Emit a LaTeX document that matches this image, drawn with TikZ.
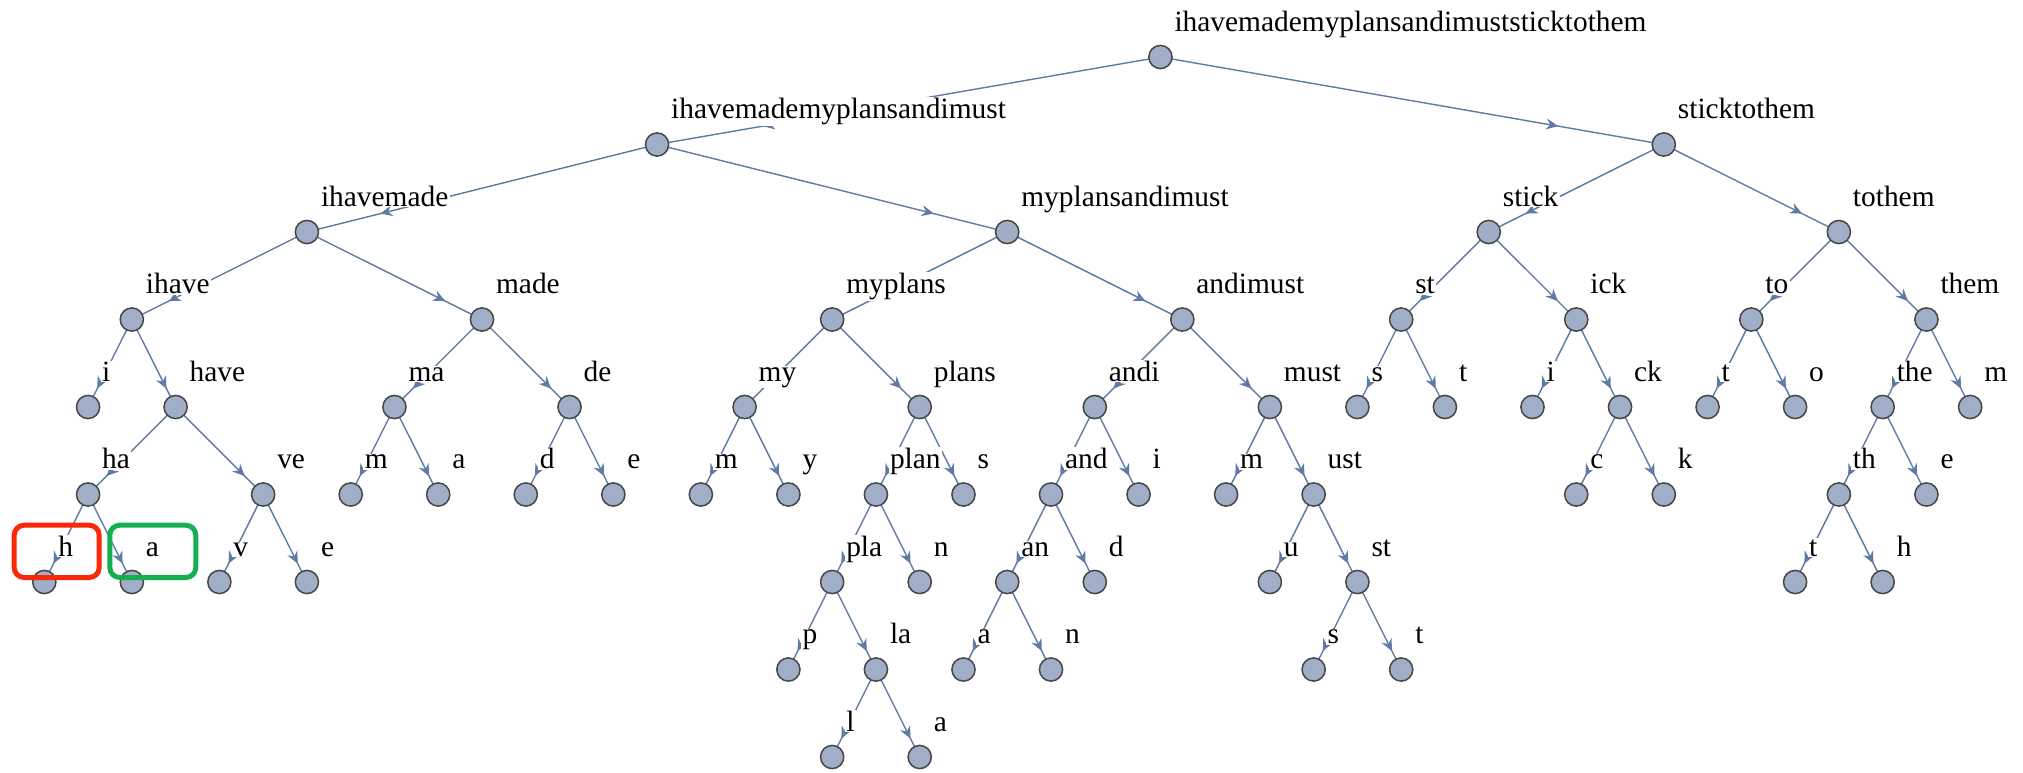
\documentclass[tikz,border=0pt]{standalone}
\usepackage{fontspec}
\setmainfont{Liberation Serif}
\usetikzlibrary{arrows.meta,decorations.markings,backgrounds}
\definecolor{vfill}{RGB}{160,174,200}
\definecolor{vline}{RGB}{70,70,70}
\definecolor{ecol}{RGB}{96,122,166}
\definecolor{hlred}{RGB}{250,40,10}
\definecolor{hlgreen}{RGB}{20,176,80}
\tikzset{
  vtx/.style={circle, fill=vfill, draw=vline, line width=0.75pt, minimum size=11.6pt, inner sep=0pt},
  lbl/.style={anchor=base west, fill=white, inner xsep=0.75pt, inner ysep=0.5pt,
    font=\fontsize{14.7pt}{17pt}\selectfont, text=black},
  edge/.style={draw=ecol, line width=0.7pt, postaction={decorate},
    decoration={markings, mark=at position 0.79 with {\arrow[ecol]{Stealth[length=6pt,width=5.5pt,inset=2pt]}}}},
  hlbox/.style={line width=2.5pt, rounded corners=5pt}
}
% tree vertex with its word label above right
\newcommand\tn[4]{\node[vtx] (#1) at (#2,#3) {}; \node[lbl] (#1-l) at ([shift={(6.1pt,13pt)}]#1.center) {#4};}
\begin{document}
\begin{tikzpicture}[x=0.5pt,y=-0.5pt]
\useasboundingbox (0,0) rectangle (2023,772);
\begin{scope}[shift={(44.3,57)}, x=21.885pt, y=-43.75pt]
\tn{r}{25.5}{0}{ihavemademyplansandimuststicktothem}
\tn{r0}{14}{1}{ihavemademyplansandimust}
\tn{r1}{37}{1}{sticktothem}
\tn{r00}{6}{2}{ihavemade}
\tn{r01}{22}{2}{myplansandimust}
\tn{r10}{33}{2}{stick}
\tn{r11}{41}{2}{tothem}
\tn{r000}{2}{3}{ihave}
\tn{r001}{10}{3}{made}
\tn{r010}{18}{3}{myplans}
\tn{r011}{26}{3}{andimust}
\tn{r100}{31}{3}{st}
\tn{r101}{35}{3}{ick}
\tn{r110}{39}{3}{to}
\tn{r111}{43}{3}{them}
\tn{r0000}{1}{4}{i}
\tn{r0001}{3}{4}{have}
\tn{r0010}{8}{4}{ma}
\tn{r0011}{12}{4}{de}
\tn{r0100}{16}{4}{my}
\tn{r0101}{20}{4}{plans}
\tn{r0110}{24}{4}{andi}
\tn{r0111}{28}{4}{must}
\tn{r1000}{30}{4}{s}
\tn{r1001}{32}{4}{t}
\tn{r1010}{34}{4}{i}
\tn{r1011}{36}{4}{ck}
\tn{r1100}{38}{4}{t}
\tn{r1101}{40}{4}{o}
\tn{r1110}{42}{4}{the}
\tn{r1111}{44}{4}{m}
\tn{r00010}{1}{5}{ha}
\tn{r00011}{5}{5}{ve}
\tn{r00100}{7}{5}{m}
\tn{r00101}{9}{5}{a}
\tn{r00110}{11}{5}{d}
\tn{r00111}{13}{5}{e}
\tn{r01000}{15}{5}{m}
\tn{r01001}{17}{5}{y}
\tn{r01010}{19}{5}{plan}
\tn{r01011}{21}{5}{s}
\tn{r01100}{23}{5}{and}
\tn{r01101}{25}{5}{i}
\tn{r01110}{27}{5}{m}
\tn{r01111}{29}{5}{ust}
\tn{r10110}{35}{5}{c}
\tn{r10111}{37}{5}{k}
\tn{r11100}{41}{5}{th}
\tn{r11101}{43}{5}{e}
\tn{r000100}{0}{6}{h}
\tn{r000101}{2}{6}{a}
\tn{r000110}{4}{6}{v}
\tn{r000111}{6}{6}{e}
\tn{r010100}{18}{6}{pla}
\tn{r010101}{20}{6}{n}
\tn{r011000}{22}{6}{an}
\tn{r011001}{24}{6}{d}
\tn{r011110}{28}{6}{u}
\tn{r011111}{30}{6}{st}
\tn{r111000}{40}{6}{t}
\tn{r111001}{42}{6}{h}
\tn{r0101000}{17}{7}{p}
\tn{r0101001}{19}{7}{la}
\tn{r0110000}{21}{7}{a}
\tn{r0110001}{23}{7}{n}
\tn{r0111110}{29}{7}{s}
\tn{r0111111}{31}{7}{t}
\tn{r01010010}{18}{8}{l}
\tn{r01010011}{20}{8}{a}
\end{scope}
\begin{pgfonlayer}{background}
\fill[white] (0,0) rectangle (2023,772);
\foreach \p/\c in {r/r0, r/r1,
  r0/r00, r0/r01, r1/r10, r1/r11,
  r00/r000, r00/r001, r01/r010, r01/r011, r10/r100, r10/r101, r11/r110, r11/r111,
  r000/r0000, r000/r0001, r001/r0010, r001/r0011, r010/r0100, r010/r0101, r011/r0110, r011/r0111,
  r100/r1000, r100/r1001, r101/r1010, r101/r1011, r110/r1100, r110/r1101, r111/r1110, r111/r1111,
  r0001/r00010, r0001/r00011, r0010/r00100, r0010/r00101, r0011/r00110, r0011/r00111,
  r0100/r01000, r0100/r01001, r0101/r01010, r0101/r01011, r0110/r01100, r0110/r01101,
  r0111/r01110, r0111/r01111, r1011/r10110, r1011/r10111, r1110/r11100, r1110/r11101,
  r00010/r000100, r00010/r000101, r00011/r000110, r00011/r000111, r01010/r010100, r01010/r010101,
  r01100/r011000, r01100/r011001, r01111/r011110, r01111/r011111, r11100/r111000, r11100/r111001,
  r010100/r0101000, r010100/r0101001, r011000/r0110000, r011000/r0110001,
  r011111/r0111110, r011111/r0111111,
  r0101001/r01010010, r0101001/r01010011}
  \draw[edge] (\p.center) -- (\c.center);
\end{pgfonlayer}
% highlight frames around two leaf labels
\draw[hlbox, hlred] (14.2,525.2) rectangle (99.2,577.5);
\draw[hlbox, hlgreen] (109.8,525.2) rectangle (195.8,577.5);
\end{tikzpicture}
\end{document}
